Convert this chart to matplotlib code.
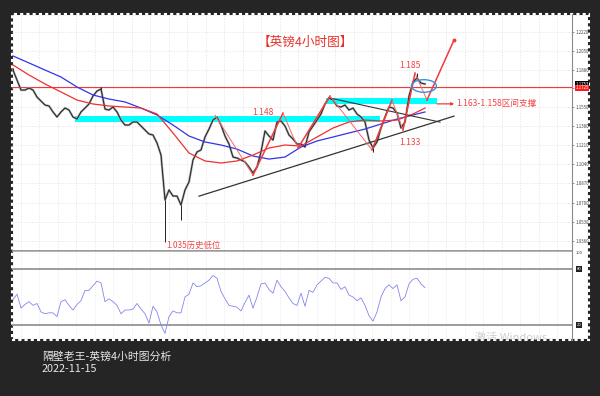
import matplotlib
matplotlib.use("Agg")
import matplotlib.pyplot as plt
import numpy as np
from matplotlib.patches import Rectangle, Ellipse

plt.rcParams['font.family'] = ['Noto Sans CJK SC', 'DejaVu Sans']

# GBPUSD 4h closes, one value per bar
close = [
    1.1879, 1.1790, 1.1701, 1.1701, 1.1719, 1.1701, 1.1639, 1.1603, 1.1568, 1.1559,
    1.1506, 1.1461, 1.1506, 1.1541, 1.1523, 1.1461, 1.1443, 1.1506, 1.1541, 1.1577,
    1.1648, 1.1692, 1.1710, 1.1532, 1.1523, 1.1550, 1.1506, 1.1434, 1.1390, 1.1390,
    1.1417, 1.1417, 1.1381, 1.1345, 1.1310, 1.1301, 1.1230, 1.1123, 1.0723, 1.0812,
    1.0758, 1.0758, 1.0678, 1.0812, 1.0883, 1.1079, 1.1150, 1.1168, 1.1283, 1.1354,
    1.1434, 1.1461, 1.1390, 1.1292, 1.1221, 1.1105, 1.1096, 1.1079, 1.1061, 1.1016,
    1.0963, 1.1016, 1.1150, 1.1337, 1.1292, 1.1256, 1.1417, 1.1426, 1.1381, 1.1301,
    1.1265, 1.1221, 1.1221, 1.1194, 1.1328, 1.1381, 1.1434, 1.1488, 1.1577, 1.1630,
    1.1612, 1.1559, 1.1550, 1.1568, 1.1523, 1.1541, 1.1488, 1.1461, 1.1417, 1.1257,
    1.1185, 1.1239, 1.1363, 1.1461, 1.1550, 1.1541, 1.1497, 1.1363, 1.1417, 1.1648,
    1.1772, 1.1808, 1.1763, 1.1755,
]
# long wicks
spike_idx = [0, 22, 38, 42, 90, 101]
spike_val = [1.1897, 1.1725, 1.0350, 1.0545, 1.1150, 1.1850]

# moving averages, sampled every 4 bars (last one at final bar)
ma_idx = [0, 4, 8, 12, 16, 20, 24, 28, 32, 36, 40, 44, 48, 52, 56, 60, 64, 68,
          72, 76, 80, 84, 88, 92, 96, 100, 103]
ma_blue = [1.2004, 1.1942, 1.1879, 1.1817, 1.1728, 1.1657, 1.1621, 1.1595, 1.1541,
           1.1479, 1.1390, 1.1292, 1.1239, 1.1212, 1.1176, 1.1114, 1.1087, 1.1105,
           1.1194, 1.1248, 1.1283, 1.1319, 1.1354, 1.1399, 1.1443, 1.1479, 1.1506]
ma_red = [1.1924, 1.1835, 1.1755, 1.1684, 1.1612, 1.1577, 1.1559, 1.1550, 1.1541,
          1.1488, 1.1319, 1.1141, 1.1070, 1.1052, 1.1070, 1.1123, 1.1185, 1.1212,
          1.1203, 1.1283, 1.1363, 1.1417, 1.1434, 1.1426, 1.1434, 1.1488, 1.1541]

# RSI, one value per bar
rsi = [
    47, 53, 38, 42, 45, 41, 43, 34, 32, 33, 33, 29, 45, 47, 41, 36, 42, 46, 57, 57,
    62, 67, 65, 45, 48, 45, 41, 32, 36, 36, 37, 43, 37, 32, 22, 40, 34, 20, 11, 29,
    35, 33, 33, 50, 53, 65, 61, 62, 65, 68, 73, 70, 56, 48, 41, 40, 39, 35, 44, 52,
    38, 50, 64, 65, 58, 54, 68, 61, 56, 49, 43, 41, 54, 40, 57, 55, 63, 67, 71, 70,
    65, 65, 58, 61, 52, 50, 46, 49, 41, 30, 24, 34, 50, 59, 63, 59, 63, 46, 50, 64,
    69, 70, 64, 60,
]

# hand-drawn analysis
wave_x = [50.5, 60, 67.5, 71.25, 79.25, 89.75, 94.75, 97.5, 100.5, 103.5, 110.25]
wave_y = [1.1478, 1.0944, 1.1496, 1.1185, 1.1648, 1.1168, 1.1612, 1.1345, 1.1852,
          1.1612, 1.2146]
trend_low_x = [46.5, 110.25]
trend_low_y = [1.0757, 1.1469]
trend_high_x = [79.25, 106.75]
trend_high_y = [1.1630, 1.1416]
zone1 = (15.5, 91.75, 1.1416, 1.1469)
zone2 = (78.25, 106.0, 1.1580, 1.1630)
last_price = 1.1725
ask_price = 1.1753

price_ticks = [1.0360, 1.0530, 1.0700, 1.0870, 1.1040, 1.1210, 1.1380, 1.1550,
               1.1720, 1.1880, 1.2050, 1.2220]

W, H = 600, 396
BG = '#252525'
RED = '#f03a3a'
LBL = '#f24545'
fig = plt.figure(figsize=(6, 3.96), dpi=100, facecolor=BG)


def fx(p):
    return p / W


def fy(p):
    return 1 - p / H


# white terminal window with dashed edge
fig.patches.append(Rectangle((fx(12), fy(340)), (589 - 12) / W, (340 - 14) / H,
                             transform=fig.transFigure, facecolor='white',
                             edgecolor=BG, lw=1.5, zorder=-2))
fig.patches.append(Rectangle((fx(12), fy(340)), (589 - 12) / W, (340 - 14) / H,
                             transform=fig.transFigure, facecolor='none',
                             edgecolor='white', lw=1.5, ls=(0, (1.5, 1.5)), zorder=-1))

grid_x = np.arange(1.9, 140, 4.625)

# ---- price panel
ax = fig.add_axes([fx(12), fy(250), 560 / W, 236 / H])
ax.set_facecolor('none')
ax.set_xlim(-0.25, 139.75)
ax.set_ylim(1.0278, 1.23775)
for s in ['left', 'top', 'bottom']:
    ax.spines[s].set_visible(False)
ax.spines['right'].set_color('#8a8a8a')
ax.spines['right'].set_linewidth(0.8)
ax.set_xticks([])
ax.yaxis.tick_right()
ax.set_yticks(price_ticks)
ax.set_yticklabels([f'{v:.4f}' for v in price_ticks])
ax.tick_params(axis='y', labelsize=3.2, length=1.5, width=0.4, pad=1, colors='#444')
for v in price_ticks:
    ax.axhline(v, color='#e2e2e2', lw=0.5, ls=(0, (2, 2)), zorder=0)
for v in grid_x:
    ax.axvline(v, color='#e2e2e2', lw=0.5, ls=(0, (2, 2)), zorder=0)

ax.axhline(last_price, color=RED, lw=0.8, zorder=2)

bars = np.arange(len(close))
ax.add_patch(Rectangle((zone1[0], zone1[2]), zone1[1] - zone1[0], zone1[3] - zone1[2],
                       facecolor='#00ffff', edgecolor='none', zorder=1))
ax.add_patch(Rectangle((zone2[0], zone2[2]), zone2[1] - zone2[0], zone2[3] - zone2[2],
                       facecolor='#00ffff', edgecolor='none', zorder=1))

ax.plot(bars, close, color='#a8a8a8', lw=1.6, zorder=3)
ax.plot(bars, close, color='#222222', lw=0.7, zorder=4)
ax.vlines(spike_idx, [close[i] for i in spike_idx], spike_val, color='#222222',
          lw=0.7, zorder=4)

ax.plot(ma_idx, ma_blue, color='#3434e6', lw=0.9, zorder=5)
ax.plot(ma_idx, ma_red, color='#ee3030', lw=0.9, zorder=5)

ax.plot(trend_low_x, trend_low_y, color='#333333', lw=0.9, zorder=6)
ax.plot(trend_high_x, trend_high_y, color='#333333', lw=0.8, zorder=6)

for k in range(len(wave_x) - 1):
    up = wave_y[k + 1] > wave_y[k]
    ax.plot(wave_x[k:k + 2], wave_y[k:k + 2], color=RED if up else '#f26a6a',
            lw=1.1 if up else 0.7, zorder=7)
ax.plot(wave_x[-1], wave_y[-1], 'o', color=RED, ms=1.8, zorder=7)

ax.add_patch(Ellipse((102.75, 1.1737), 6.2, 0.0112, facecolor='none',
                     edgecolor='#3d8fe0', lw=1.0, zorder=8))

ax.annotate('', xy=(110.3, 1.1578), xytext=(106.0, 1.1578),
            arrowprops=dict(arrowstyle='-|>', color=RED, lw=0.9,
                            mutation_scale=4, shrinkA=0, shrinkB=0), zorder=8)
ax.text(110.75, 1.1578, '1.163-1.158区间支撑', color=LBL, fontsize=6.2,
        va='center', ha='left', zorder=9)
ax.text(99.25, 1.1915, '1.185', color=LBL, fontsize=6.2, ha='center', va='center')
ax.text(62.5, 1.1497, '1.148', color=LBL, fontsize=6.2, ha='center', va='center')
ax.text(99.25, 1.1230, '1.133', color=LBL, fontsize=6.2, ha='center', va='center')
ax.text(38.25, 1.0322, '1.035历史低位', color=LBL, fontsize=6.0, ha='left', va='center')
ax.text((305 - 12) / 560, 1 - (42 - 14) / 236, '【英镑4小时图】', color='#e8302a',
        fontsize=9.1, ha='center', va='center', transform=ax.transAxes)

ytr = ax.get_yaxis_transform()
ax.text(1.006, ask_price, '1.1753', transform=ytr, fontsize=3.2, color='white',
        va='center', ha='left', bbox=dict(boxstyle='square,pad=0.15', fc='black', ec='none'))
ax.text(1.006, last_price - 0.0004, '1.1725', transform=ytr, fontsize=3.2, color='white',
        va='center', ha='left', bbox=dict(boxstyle='square,pad=0.15', fc='#ff1a1a', ec='none'))

# ---- RSI panel
ar = fig.add_axes([fx(12), fy(340), 560 / W, 90 / H])
ar.set_facecolor('none')
ar.set_xlim(-0.25, 139.75)
ar.set_ylim(3.9, 100.3)
for s in ['left', 'top', 'bottom']:
    ar.spines[s].set_visible(False)
ar.spines['right'].set_color('#8a8a8a')
ar.spines['right'].set_linewidth(0.8)
ar.set_xticks([])
ar.set_yticks([])
for v in grid_x:
    ar.axvline(v, color='#e6e6e6', lw=0.5, ls=(0, (2, 2)), zorder=0)
ar.axhline(100, color='#9c9c9c', lw=1.8, zorder=1)
ar.axhline(80, color='#9c9c9c', lw=1.4, zorder=1)
ar.axhline(20, color='#9c9c9c', lw=1.4, zorder=1)
ar.plot(bars, rsi, color='#8585f0', lw=0.6, zorder=2)

rtr = ar.get_yaxis_transform()
ar.text(1.006, 97, '100', transform=rtr, fontsize=3, color='#444', va='center')
for v in [80, 20]:
    ar.text(1.008, v, str(v), transform=rtr, fontsize=3, color='white', va='center',
            bbox=dict(boxstyle='square,pad=0.2', fc='#222', ec='none'))
ar.text((475 - 12) / 560, (340 - 332) / 90, '激活 Windows', transform=ar.transAxes,
        fontsize=8, color='#cfcfcf', ha='left', va='top', clip_on=True)

fig.text(fx(42), fy(357), '隔壁老王-英镑4小时图分析', color='#e8e8e8', fontsize=7.8,
         va='center', ha='left')
fig.text(fx(42), fy(369), '2022-11-15', color='#e8e8e8', fontsize=7.8,
         va='center', ha='left')

fig.savefig('out.png', dpi=100, facecolor=BG)
